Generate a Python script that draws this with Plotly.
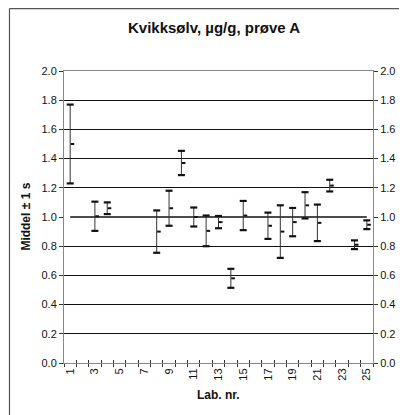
import plotly.graph_objects as go

# ---- data ----
labs = [1, 3, 4, 8, 9, 10, 11, 12, 13, 14, 15, 17, 18, 19, 20, 21, 22, 24, 25]
mean = [1.50, 1.005, 1.06, 0.90, 1.06, 1.37, 1.00, 0.905, 0.965, 0.58, 1.01,
        0.94, 0.90, 0.965, 1.08, 0.96, 1.215, 0.81, 0.947]
sd = [0.27, 0.10, 0.04, 0.145, 0.12, 0.083, 0.065, 0.105, 0.042, 0.065, 0.10,
      0.09, 0.18, 0.097, 0.09, 0.125, 0.04, 0.03, 0.03]
ref_value = 1.0
n_labs = 25
x_ticklabels = [str(i) for i in range(1, n_labs + 1, 2)]
y_ticks = [0.0, 0.2, 0.4, 0.6, 0.8, 1.0, 1.2, 1.4, 1.6, 1.8, 2.0]

FONT = "Liberation Sans, Arial, sans-serif"
upper = [m + s for m, s in zip(mean, sd)]
lower = [m - s for m, s in zip(mean, sd)]
boundaries = [i + 0.5 for i in range(0, n_labs + 1)]
xrange_ = [0.5, n_labs + 0.5]

W, H = 399, 407          # page has an 8px body margin
L, R, T, B = 56, 29, 63, 52
PW, PH = W - L - R, H - T - B

fig = go.Figure()

# reference line at the true value
fig.add_trace(go.Scatter(x=[labs[0], labs[-1]], y=[ref_value, ref_value], mode="lines",
                         line=dict(color="#111", width=1.3), hoverinfo="skip"))
# vertical lines mean ± 1 s
fig.add_trace(go.Scatter(x=labs, y=mean, mode="markers", marker=dict(size=1, opacity=0),
                         error_y=dict(type="data", array=sd, color="#333", thickness=1, width=0)))
# caps
for yy in (upper, lower):
    fig.add_trace(go.Scatter(x=labs, y=yy, mode="markers",
                             marker=dict(symbol="line-ew", size=5,
                                         line=dict(color="#111", width=2.2))))
# mean dash (to the right of the bar)
fig.add_trace(go.Scatter(x=[l + 0.18 for l in labs], y=mean, mode="markers",
                         marker=dict(symbol="line-ew", size=2.6,
                                     line=dict(color="#111", width=2))))

grid_vals = [v for v in y_ticks if v not in (0.0, ref_value, 2.0)]

fig.update_layout(
    width=W, height=H,
    margin=dict(l=L, r=R, t=T, b=B),
    paper_bgcolor="white", plot_bgcolor="white",
    showlegend=False,
    font=dict(family=FONT, size=11, color="#111"),
    title=dict(text="<b>Kvikksølv, µg/g, prøve A</b>", x=206 / W, xanchor="center",
               y=1 - 20 / H, yanchor="middle", font=dict(size=15, family=FONT)),
    xaxis=dict(range=xrange_, tickmode="array", tickvals=list(range(1, n_labs + 1, 2)),
               ticktext=x_ticklabels, tickangle=-90, ticks="", showgrid=False,
               showline=True, linecolor="#888", linewidth=1, mirror=True,
               zeroline=False, tickfont=dict(size=11)),
    xaxis2=dict(range=xrange_, overlaying="x", anchor="y", side="bottom",
                tickmode="array", tickvals=boundaries, ticks="outside", ticklen=3,
                tickcolor="#333", showticklabels=False, showgrid=False, zeroline=False),
    xaxis3=dict(range=xrange_, overlaying="x", anchor="y", side="bottom",
                tickmode="array", tickvals=boundaries, ticks="inside", ticklen=3,
                tickcolor="#333", showticklabels=False, showgrid=False, zeroline=False),
    yaxis=dict(range=[0, 2.0], tickmode="array", tickvals=y_ticks,
               ticktext=[f"{v:.1f}" for v in y_ticks], ticks="outside", ticklen=4,
               tickcolor="#333", showgrid=False, zeroline=False, showline=True,
               linecolor="#888", linewidth=1, tickfont=dict(size=11)),
    yaxis2=dict(range=[0, 2.0], overlaying="y", side="right", anchor="x", tickmode="array",
                tickvals=y_ticks, ticktext=[f"{v:.1f}" for v in y_ticks], ticks="outside",
                ticklen=4, tickcolor="#333", showgrid=False, zeroline=False, showline=True,
                linecolor="#888", linewidth=1, tickfont=dict(size=11)),
    yaxis3=dict(range=[0, 2.0], overlaying="y", anchor="x", tickmode="array",
                tickvals=grid_vals, showticklabels=False, ticks="", showgrid=True,
                gridcolor="#111", gridwidth=1, zeroline=False),
    annotations=[
        dict(text="<b>Middel ± 1 s</b>", xref="paper", yref="paper",
             x=(25 - 64) / PW, y=0.5, textangle=-90, showarrow=False,
             xanchor="center", yanchor="middle", font=dict(size=12)),
        dict(text="<b>Lab. nr.</b>", xref="paper", yref="paper",
             x=0.5, y=-(395 - 363) / PH, showarrow=False,
             xanchor="center", yanchor="middle", font=dict(size=12)),
    ],
    shapes=[
        dict(type="line", xref="paper", yref="paper", x0=-(L - 0.6) / PW, x1=-(L - 0.6) / PW,
             y0=-0.4, y1=(PH + T - 0.6) / PH, line=dict(color="#555", width=1.2)),
        dict(type="line", xref="paper", yref="paper", x0=-(L - 0.6) / PW, x1=1.3,
             y0=(PH + T - 0.6) / PH, y1=(PH + T - 0.6) / PH, line=dict(color="#555", width=1.2)),
    ],
)

# attach helper traces so the overlay axes render
fig.add_trace(go.Scatter(x=[xrange_[0]], y=[0], xaxis="x2", yaxis="y", mode="markers",
                         marker=dict(opacity=0), hoverinfo="skip"))
fig.add_trace(go.Scatter(x=[xrange_[0]], y=[0], xaxis="x3", yaxis="y", mode="markers",
                         marker=dict(opacity=0), hoverinfo="skip"))
fig.add_trace(go.Scatter(x=[xrange_[0]], y=[0], xaxis="x", yaxis="y2", mode="markers",
                         marker=dict(opacity=0), hoverinfo="skip"))
fig.add_trace(go.Scatter(x=[xrange_[0]], y=[0], xaxis="x", yaxis="y3", mode="markers",
                         marker=dict(opacity=0), hoverinfo="skip"))

fig.write_html("out.html")
